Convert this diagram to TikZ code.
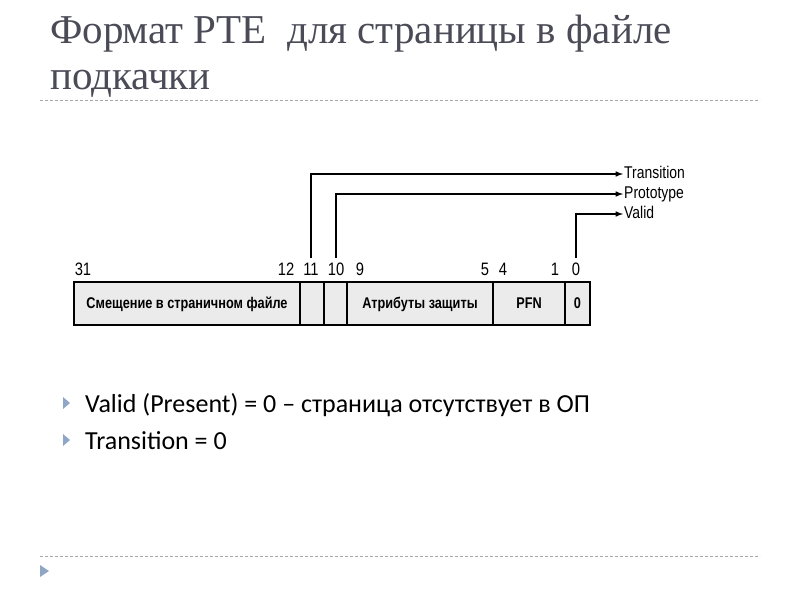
\documentclass[tikz,border=0pt]{standalone}
\usepackage{fontspec}
\setmainfont{Liberation Serif}
\newfontfamily\bodyf{Carlito}
\newfontfamily\diagf[FakeStretch=0.82]{Liberation Sans}
\definecolor{titlec}{HTML}{4B4B57}
\definecolor{bulc}{HTML}{8FA6C4}
\begin{document}
\begin{tikzpicture}[x=1pt,y=-1pt,
  field/.style={draw=black,line width=1.6pt,fill=black!8,minimum height=43pt,inner sep=0pt,text height=11pt,text depth=2pt,font=\diagf\bfseries\fontsize{15.5}{18}\selectfont},
  bitn/.style={font=\diagf\fontsize{18}{20}\selectfont,anchor=base},
  lbl/.style={font=\diagf\fontsize{17}{19}\selectfont,anchor=west,inner sep=1pt},
  conn/.style={line width=1.5pt,-latex},
  sep/.style={dash pattern=on 3pt off 2pt,color=black!35,line width=0.6pt},
  ttl/.style={anchor=base west,inner sep=0pt,text=titlec,font=\fontsize{41}{46}\selectfont}]
\useasboundingbox (0,0) rectangle (800,600);
\node[ttl] (t1) at (50,43) {Формат PTE \ для страницы в файле};
\node[ttl] (t2) at (50,89) {подкачки};
\draw[sep] (40,100) -- (760,100);
\draw[sep] (40,556) -- (760,556);
\fill[bulc] (40,565) -- (49,571) -- (40,577) -- cycle;
% fields
\node[field,minimum width=226pt] (f1) at (187,303.5) {Смещение в страничном файле};
\node[field,minimum width=24pt] (f2) at (312,303.5) {};
\node[field,minimum width=23pt] (f3) at (335.5,303.5) {};
\node[field,minimum width=146pt] (f4) at (420,303.5) {Атрибуты защиты};
\node[field,minimum width=72pt] (f5) at (529,303.5) {PFN};
\node[field,minimum width=25pt] (f6) at (577.5,303.5) {0};
% bit numbers
\node[bitn] at (83,275) {31};
\node[bitn] at (286,275) {12};
\node[bitn] at (311,275) {11};
\node[bitn] at (336,275) {10};
\node[bitn] at (360,275) {9};
\node[bitn] at (485,275) {5};
\node[bitn] at (503,275) {4};
\node[bitn] at (555,275) {1};
\node[bitn] at (576,275) {0};
% labels
\node[lbl,text height=11pt,text depth=3pt] (lt) at (623,174) {Transition};
\node[lbl,text height=11pt,text depth=3pt] (lp) at (623,194) {Prototype};
\node[lbl,text height=11pt,text depth=3pt] (lv) at (623,214) {Valid};
\coordinate (s11) at (311,258);
\coordinate (s10) at (336,258);
\coordinate (s0) at (576,258);
\draw[conn] (s11) |- (lt.west);
\draw[conn] (s10) |- (lp.west);
\draw[conn] (s0) |- (lv.west);
% bullets
\fill[bulc] (63,397) -- (70,403) -- (63,409) -- cycle;
\fill[bulc] (63,434) -- (70,440) -- (63,446) -- cycle;
\node[anchor=base west,inner sep=0pt,font=\bodyf\fontsize{26}{30}\selectfont] (b1) at (85,412) {Valid (Present) = 0 – страница отсутствует в ОП};
\node[anchor=base west,inner sep=0pt,font=\bodyf\fontsize{26}{30}\selectfont] (b2) at (85,449) {Transition = 0};
\end{tikzpicture}
\end{document}
